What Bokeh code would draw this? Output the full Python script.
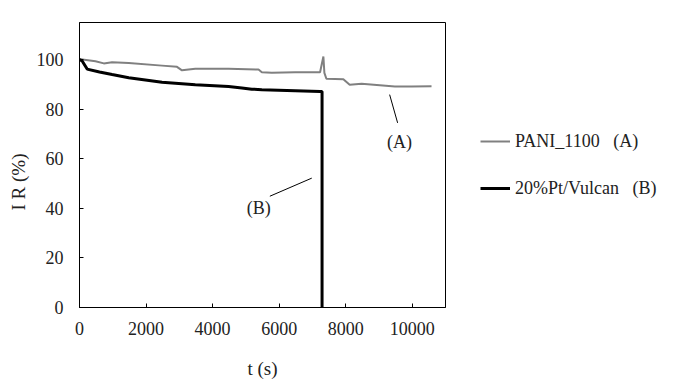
from bokeh.plotting import figure
from bokeh.models import Range1d, Legend, LegendItem, Label, FixedTicker, Title
from bokeh.embed import file_html
from bokeh.resources import INLINE

# Series A: PANI_1100 (gray)
t_a = [0, 30, 480, 730, 980, 1480, 2480, 2930, 3080, 3480, 4480, 5380, 5480, 5780,
       6480, 7230, 7330, 7360, 7420, 7930, 8120, 8480, 9480, 9980, 10580]
ir_a = [100, 100.2, 99.4, 98.5, 99.0, 98.7, 97.6, 97.1, 95.7, 96.3, 96.3, 96.0, 94.9, 94.7,
        94.9, 94.9, 101.3, 94.7, 92.3, 92.1, 89.9, 90.3, 89.2, 89.2, 89.3]

# Series B: 20%Pt/Vulcan (black)
t_b = [0, 80, 230, 600, 980, 1480, 2480, 3480, 4480, 4880, 5180, 5480, 6480, 7230, 7290, 7290]
ir_b = [100, 99.5, 96.2, 95.0, 94.0, 92.7, 90.9, 89.9, 89.2, 88.6, 88.1, 87.9, 87.5, 87.2, 87.2, 0]

x_ticks = [0, 2000, 4000, 6000, 8000, 10000]
y_ticks = [0, 20, 40, 60, 80, 100]

# annotation pointer lines (data coords)
ann_x0 = [9321, 5721]
ann_y0 = [85.9, 44.9]
ann_x1 = [9561, 6981]
ann_y1 = [74.5, 52.2]
ann_text = ["(A)", "(B)"]
ann_tx = [9620, 5390]
ann_ty = [66.8, 40.3]

NB = "\u00a0"
legend_names = ["PANI_1100" + NB * 3 + "(A)", "20%Pt/Vulcan" + NB * 3 + "(B)"]

FONT = "Liberation Serif"
TXT = "#222222"

p = figure(frame_width=366, frame_height=285, output_backend="svg", toolbar_location=None,
           x_range=Range1d(0, 11000), y_range=Range1d(0, 115),
           min_border_left=77, min_border_right=232, min_border_top=22, min_border_bottom=75)

p.xgrid.visible = False
p.ygrid.visible = False
p.outline_line_color = "black"
p.outline_line_width = 1

for ax in (p.xaxis, p.yaxis):
    ax.axis_line_color = "black"
    ax.major_tick_line_color = "black"
    ax.minor_tick_line_color = None
    ax.major_tick_in = 4
    ax.major_tick_out = 0
    ax.major_label_text_font = FONT
    ax.major_label_text_font_size = "18px"
    ax.major_label_text_color = TXT

p.xaxis.ticker = FixedTicker(ticks=x_ticks)
p.yaxis.ticker = FixedTicker(ticks=y_ticks)
p.xaxis.major_label_standoff = 14
p.yaxis.major_label_standoff = 16

p.xaxis.axis_label = "t (s)"
p.xaxis.axis_label_text_font = FONT
p.xaxis.axis_label_text_font_style = "normal"
p.xaxis.axis_label_text_font_size = "19px"
p.xaxis.axis_label_text_color = TXT
p.xaxis.axis_label_standoff = 20

# y axis title as a side-panel title
p.add_layout(Title(text="I R (%)", align="left", offset=97, text_font=FONT,
                   text_font_size="19px", text_font_style="normal", text_color=TXT,
                   standoff=10), "left")

ra = p.line(t_a, ir_a, line_color="#808080", line_width=2)
rb = p.line(t_b, ir_b, line_color="black", line_width=3)

p.segment(x0=ann_x0, y0=ann_y0, x1=ann_x1, y1=ann_y1, line_color="black", line_width=1)

for txt, tx, ty in zip(ann_text, ann_tx, ann_ty):
    p.add_layout(Label(x=tx, y=ty, text=txt, text_font=FONT, text_font_size="18px",
                       text_color=TXT, text_align="center", text_baseline="middle"))

legend = Legend(items=[LegendItem(label=legend_names[0], renderers=[ra]),
                       LegendItem(label=legend_names[1], renderers=[rb])],
                location="left", orientation="vertical",
                glyph_width=30, glyph_height=20, label_height=20, spacing=26,
                padding=0, margin=35, label_standoff=5,
                border_line_alpha=0, background_fill_alpha=0,
                label_text_font=FONT, label_text_font_size="18px", label_text_color=TXT)
p.add_layout(legend, "right")

open("out.html", "w").write(file_html(p, INLINE))
